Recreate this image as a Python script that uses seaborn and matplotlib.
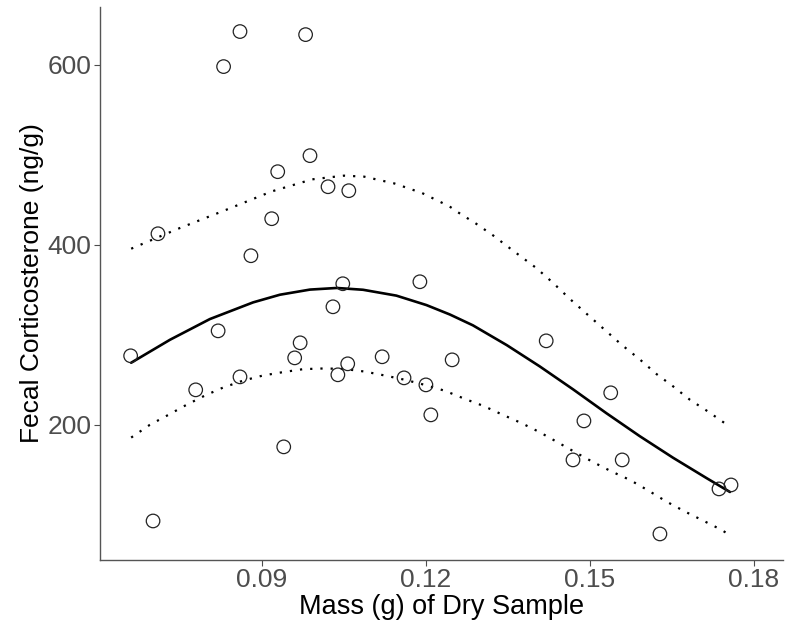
import numpy as np
import pandas as pd
import matplotlib
matplotlib.use("Agg")
import matplotlib.pyplot as plt
import seaborn as sns

# Sample points
mass = [0.0860, 0.0980, 0.0830, 0.0988, 0.0929, 0.1021, 0.1059, 0.0918, 0.0710,
        0.0880, 0.1048, 0.1189, 0.1030, 0.0820, 0.0660, 0.0970, 0.0960, 0.1057,
        0.1120, 0.1248, 0.0860, 0.1039, 0.0779, 0.1160, 0.1200, 0.1209, 0.0940,
        0.0701, 0.1420, 0.1538, 0.1489, 0.1469, 0.1559, 0.1736, 0.1758, 0.1628]
cort = [636.7, 633.3, 597.8, 498.9, 481.1, 464.4, 460.0, 428.9, 412.2,
        387.8, 356.7, 358.9, 331.1, 304.4, 276.7, 291.1, 274.4, 267.8,
        275.6, 272.2, 253.3, 255.6, 238.9, 252.2, 244.4, 211.1, 175.6,
        93.3, 293.3, 235.6, 204.4, 161.1, 161.1, 128.9, 133.3, 78.9]

# Fitted curve (solid)
fit_x = [0.0661, 0.0732, 0.0805, 0.0884, 0.0933, 0.0988, 0.1037, 0.1085, 0.1146,
         0.1201, 0.1244, 0.1286, 0.1348, 0.1408, 0.1469, 0.1530, 0.1591, 0.1652,
         0.1713, 0.1756]
fit_y = [269.0, 294.5, 317.5, 336.0, 344.5, 350.2, 352.0, 350.0, 343.5,
         333.0, 322.5, 310.5, 288.5, 265.0, 239.5, 213.0, 187.5, 163.5,
         141.0, 125.5]

# Upper confidence limit (dotted)
upper_x = [0.0661, 0.0747, 0.0834, 0.0918, 0.0992, 0.1050, 0.1087, 0.1142, 0.1193,
           0.1243, 0.1259, 0.1291, 0.1323, 0.1354, 0.1402, 0.1433, 0.1463, 0.1496,
           0.1527, 0.1558, 0.1590, 0.1622, 0.1652, 0.1683, 0.1716, 0.1751]
upper_y = [395.6, 417.8, 438.6, 459.2, 472.6, 476.7, 475.6, 468.1, 457.4,
           442.6, 435.9, 423.7, 410.3, 395.9, 374.1, 357.4, 340.0, 322.2,
           305.6, 288.9, 273.3, 256.3, 242.8, 227.8, 214.8, 200.0]

# Lower confidence limit (dotted)
lower_x = [0.0661, 0.0695, 0.0729, 0.0762, 0.0796, 0.0829, 0.0866, 0.0902, 0.0939,
           0.0976, 0.1012, 0.1049, 0.1088, 0.1125, 0.1162, 0.1198, 0.1235, 0.1271,
           0.1305, 0.1338, 0.1375, 0.1408, 0.1442, 0.1476, 0.1506, 0.1540, 0.1573,
           0.1607, 0.1640, 0.1674, 0.1707, 0.1741, 0.1757]
lower_y = [185.9, 200.0, 211.1, 222.2, 232.6, 241.4, 249.2, 254.8, 258.6,
           261.9, 262.6, 262.2, 259.2, 254.8, 250.0, 244.4, 237.8, 228.9,
           221.1, 211.9, 201.9, 191.9, 180.3, 168.6, 158.6, 148.1, 138.9,
           127.0, 114.8, 103.7, 93.7, 83.3, 77.0]

x_ticks = [0.09, 0.12, 0.15, 0.18]
y_ticks = [200, 400, 600]

df = pd.DataFrame({"mass": mass, "cort": cort})
fit_df = pd.DataFrame({"mass": fit_x, "cort": fit_y})
up_df = pd.DataFrame({"mass": upper_x, "cort": upper_y})
lo_df = pd.DataFrame({"mass": lower_x, "cort": lower_y})

sns.set_style("white")
plt.rcParams["font.family"] = ["Liberation Sans", "DejaVu Sans"]

fig = plt.figure(figsize=(7.85, 6.27), dpi=100)
ax = fig.add_axes([0.1274, 0.1069, 0.8700, 0.8820])

dot = (0, (1, 3.6))
sns.lineplot(data=up_df, x="mass", y="cort", ax=ax, color="black", lw=1.6,
             linestyle=dot, sort=True)
sns.lineplot(data=lo_df, x="mass", y="cort", ax=ax, color="black", lw=1.6,
             linestyle=dot, sort=True)
sns.lineplot(data=fit_df, x="mass", y="cort", ax=ax, color="black", lw=1.9,
             sort=True)
sns.scatterplot(data=df, x="mass", y="cort", ax=ax, s=95, facecolor="none",
                edgecolor="#222222", linewidth=0.9, zorder=5)

ax.set_xlim(0.0604, 0.1853)
ax.set_ylim(50, 664)
ax.set_xticks(x_ticks)
ax.set_xticklabels([f"{v:.2f}" for v in x_ticks])
ax.set_yticks(y_ticks)
ax.set_yticklabels([str(v) for v in y_ticks])
ax.tick_params(axis="both", labelsize=19, labelcolor="#4D4D4D", colors="#4D4D4D",
               length=4, width=0.8, pad=2, bottom=True, left=True)
for side in ["top", "right"]:
    ax.spines[side].set_visible(False)
for side in ["left", "bottom"]:
    ax.spines[side].set_color("#555555")
    ax.spines[side].set_linewidth(1.0)
ax.set_xlabel("Mass (g) of Dry Sample", fontsize=19.5, color="black", labelpad=1)
ax.set_ylabel("Fecal Corticosterone (ng/g)", fontsize=19, color="black", labelpad=3)
ax.grid(False)

fig.savefig("out.png", dpi=100)
